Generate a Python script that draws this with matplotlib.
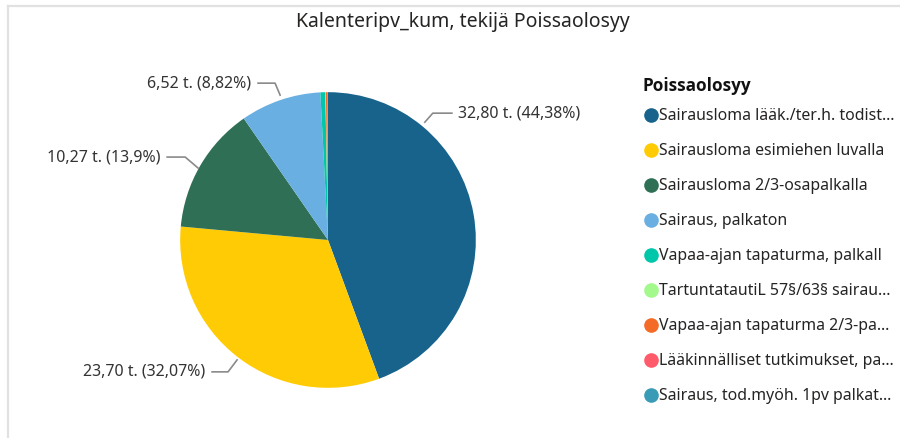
import matplotlib
matplotlib.use("Agg")
import matplotlib.pyplot as plt  # noqa: E402
from matplotlib.lines import Line2D  # noqa: E402

plt.rcParams["font.family"] = ["Noto Sans", "DejaVu Sans"]

# data
categories = [
    "Sairausloma lääk./ter.h. todist…",
    "Sairausloma esimiehen luvalla",
    "Sairausloma 2/3-osapalkalla",
    "Sairaus, palkaton",
    "Vapaa-ajan tapaturma, palkall",
    "TartuntatautiL 57§/63§ sairau…",
    "Vapaa-ajan tapaturma 2/3-pa…",
    "Lääkinnälliset tutkimukset, pa…",
    "Sairaus, tod.myöh. 1pv palkat…",
]
values = [32.80, 23.70, 10.27, 6.52, 0.40, 0.04, 0.10, 0.05, 0.02]
label_text = ["32,80 t. (44,38%)", "23,70 t. (32,07%)",
              "10,27 t. (13,9%)", "6,52 t. (8,82%)"]
colors = ["#17638C", "#FFCB05", "#2E6F56", "#6AAFE1", "#00C7A9",
          "#A3F98C", "#F36B26", "#FF5B6A", "#3A9BB7"]

fig = plt.figure(figsize=(9, 4.38), dpi=100)

# panel border (top and left edges visible)
fig.add_artist(Line2D([8 / 900, 8 / 900], [0, 1 - 6 / 438],
                      transform=fig.transFigure, color="#E1E1E1", lw=1.6))
fig.add_artist(Line2D([8 / 900, 1], [1 - 6 / 438, 1 - 6 / 438],
                      transform=fig.transFigure, color="#E1E1E1", lw=1.6))

fig.text(463 / 900, 1 - 22 / 438, "Kalenteripv_kum, tekijä Poissaolosyy",
         ha="center", va="center", fontsize=14, color="#252423")

ax = fig.add_axes([(328 - 170) / 900, (438 - 240 - 170) / 438, 340 / 900, 340 / 438])
ax.pie(values, colors=colors, startangle=90, counterclock=False,
       wedgeprops=dict(linewidth=0))
ax.set_xlim(-1.15, 1.15)
ax.set_ylim(-1.15, 1.15)
ax.set_aspect("equal")
ax.axis("off")

# leader lines: anchor, elbow, end, side
leaders = [
    ((0.655, 0.797), (0.709, 0.858), (0.838, 0.858), "left"),
    ((-0.615, -0.811), (-0.676, -0.892), (-0.784, -0.892), "right"),
    ((-0.878, 0.486), (-0.966, 0.561), (-1.088, 0.561), "right"),
    ((-0.324, 0.980), (-0.358, 1.061), (-0.473, 1.061), "right"),
]
for txt, (a, b, c, side) in zip(label_text, leaders):
    ax.plot([a[0], b[0], c[0]], [a[1], b[1], c[1]], color="#8A8A8A",
            lw=1.2, clip_on=False)
    dx = 0.04 if side == "left" else -0.045
    ax.text(c[0] + dx, c[1], txt, ha=side, va="center", fontsize=11.5,
            color="#333333", clip_on=False)

# legend
fig.text(642 / 900, 1 - 86 / 438, "Poissaolosyy", ha="left", va="center",
         fontsize=12.3, fontweight="bold", family=["Open Sans", "DejaVu Sans"],
         color="#111111")
handles = [Line2D([], [], marker="o", linestyle="", markersize=9.5,
                  markerfacecolor=col, markeredgecolor=col) for col in colors]
leg = fig.legend(handles, categories, loc="upper left",
                 bbox_to_anchor=(637 / 900, 1 - 102 / 438), frameon=False,
                 fontsize=11.4, labelspacing=1.2, handletextpad=0.0,
                 handlelength=1.0, labelcolor="#252423", borderaxespad=0)

fig.savefig("out.png", dpi=100)
